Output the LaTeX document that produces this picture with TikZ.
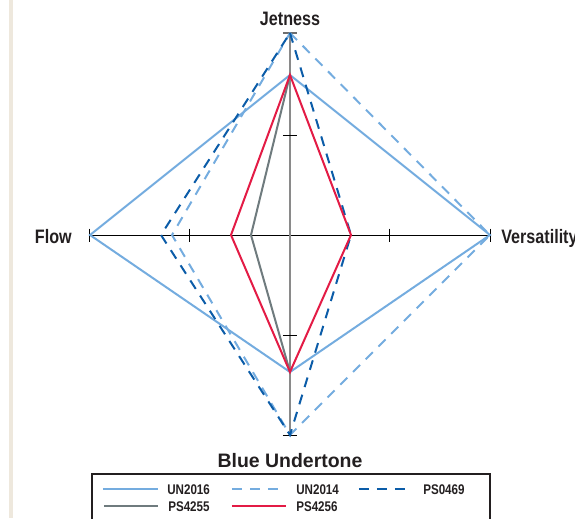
\documentclass[tikz,border=0pt]{standalone}
\usepackage{fontspec}
\setmainfont{Liberation Sans}
\newfontfamily\condfont[FakeStretch=0.83]{Liberation Sans}
\usetikzlibrary{calc}

\definecolor{lightblue}{HTML}{74ACDF}
\definecolor{darkblue}{HTML}{0B5CA8}
\definecolor{slategray}{HTML}{6F7B7E}
\definecolor{rosered}{HTML}{E31B45}
\definecolor{axisgray}{HTML}{8A8A8A}
\definecolor{rulebeige}{HTML}{EEE8DD}
\definecolor{inkblack}{HTML}{231F20}

\tikzset{
  series/.style={line width=1.5pt},
  dashseries/.style={series, dash pattern=on 7.5pt off 6pt},
  un2016/.style={series, lightblue},
  un2014/.style={dashseries, lightblue},
  ps0469/.style={dashseries, darkblue},
  ps4255/.style={series, slategray},
  ps4256/.style={series, rosered},
  axislabel/.style={font=\condfont\bfseries\fontsize{14.6}{16}\selectfont, text=inkblack, inner sep=0pt},
  legendlabel/.style={font=\condfont\bfseries\fontsize{10.5}{12}\selectfont, text=inkblack, inner sep=0pt, anchor=base west},
}

\begin{document}
\begin{tikzpicture}[x=75pt, y=75pt]
    \useasboundingbox (-2.90,-2.83) rectangle (2.85,2.35);
    % page rule on the left
    \draw[rulebeige, line width=2.5pt] (-2.79,2.35) -- (-2.79,-2.83);

    % axes
    \coordinate (O) at (0,0);
    \coordinate (J) at (0,2.02);
    \coordinate (B) at (0,-2);
    \coordinate (F) at (-2,0);
    \coordinate (V) at (2,0);
    \draw[line width=0.75pt] (F) -- (V);
    \draw[axisgray, line width=1.5pt] (J) -- (B);
    \foreach \x in {-2,-1,1,2} {
        \draw[line width=0.75pt] (\x,0.065) -- (\x,-0.065);
    }
    \foreach \y in {-2,-1,1} {
        \draw[line width=0.75pt] (-0.07,\y) -- (0.07,\y);
    }
    \draw[axisgray!80!black, line width=0.9pt] (-0.07,2.02) -- (0.07,2.02);

    \node[axislabel, anchor=base] (jetlabel) at (0,2.09) {Jetness};
    \node[axislabel, anchor=base east] (flowlabel) at ($(F)+(-0.18,-0.08)$) {Flow};
    \node[axislabel, anchor=base west] (verslabel) at ($(V)+(0.11,-0.08)$) {Versatility};

    % series
    \draw[un2016] (0,1.60) -- (2,0) -- (0,-1.37) -- (-2,0) -- cycle;
    \draw[un2014] (0,2.02) -- (2,0) -- (0,-2) -- (-1.18,0) -- cycle;
    \draw[ps0469] (0,2.02) -- (0.61,0) -- (0,-2) -- (-1.29,0) -- cycle;
    \draw[ps4255] (0,1.60) -- (-0.39,0) -- (0,-1.37);
    \draw[ps4256] (0,1.60) -- (0.61,0) -- (0,-1.37) -- (-0.59,0) -- cycle;

    % legend
    \node[font=\bfseries\fontsize{14.6}{16}\selectfont, text=inkblack, anchor=base, inner sep=0pt] (title) at (0,-2.32) {Blue Undertone};
    \draw[inkblack, line width=1.5pt] (-1.98,-3.0) rectangle (2.00,-2.39);
    \foreach \sty/\lab/\x/\y/\len in {un2016/UN2016/-1.87/-2.54/0.55, un2014/UN2014/-0.58/-2.54/0.46,
                                      ps0469/PS0469/0.69/-2.54/0.46, ps4255/PS4255/-1.86/-2.71/0.54,
                                      ps4256/PS4256/-0.58/-2.71/0.54} {
        \draw[\sty] (\x,\y) -- ++(\len,0);
        \node[legendlabel] (lab-\lab) at (\x+0.64,\y-0.05) {\lab};
    }
\end{tikzpicture}
\end{document}
